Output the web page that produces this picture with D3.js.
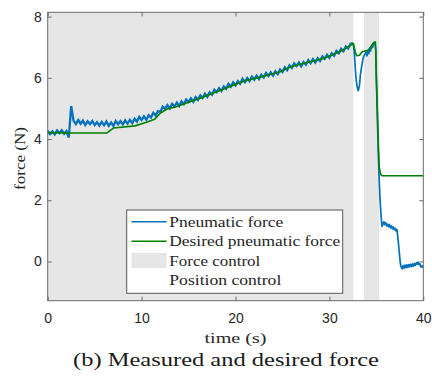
<!DOCTYPE html>
<html><head><meta charset="utf-8">
<script src="https://cdn.jsdelivr.net/npm/d3@7"></script>
<style>
html,body{margin:0;padding:0;background:#fff;}
svg{display:block;}
</style></head>
<body>
<svg id="chart" width="432" height="383"></svg>
<script>
// ---------- data ----------
const xTicks = [0, 10, 20, 30, 40];
const yTicks = [0, 2, 4, 6, 8];
const xDomain = [0, 40];
const yDomain = [-1.28, 8.14];

// shaded control regions (start, end) in seconds
const forceControlRegions = [[0, 32.55], [33.68, 35.28]];

// pneumatic force, sampled every 0.25 s from t = 0 to 32.5 s
const pneumaticStep = 0.25;
const pneumaticSampled = [
 4.27,4.16,4.25,4.15,4.28,4.19,4.29,4.17,4.26,4.05,
 5.08,4.60,4.49,4.62,4.50,4.60,4.46,4.58,4.49,4.59,
 4.46,4.55,4.44,4.56,4.45,4.57,4.43,4.54,4.43,4.59,
 4.48,4.59,4.48,4.61,4.50,4.63,4.52,4.66,4.57,4.72,
 4.62,4.74,4.63,4.78,4.70,4.86,4.77,4.91,4.89,5.06,
 4.99,5.11,5.00,5.15,5.06,5.19,5.08,5.23,5.14,5.29,
 5.21,5.33,5.22,5.37,5.28,5.43,5.34,5.48,5.38,5.53,
 5.45,5.61,5.53,5.66,5.57,5.72,5.64,5.80,5.71,5.85,
 5.75,5.89,5.81,5.97,5.86,5.99,5.89,6.04,5.94,6.07,
 5.96,6.10,6.01,6.16,6.06,6.18,6.07,6.21,6.12,6.27,
 6.19,6.34,6.25,6.41,6.32,6.47,6.38,6.50,6.38,6.52,
 6.43,6.58,6.48,6.61,6.50,6.64,6.55,6.70,6.62,6.75,
 6.65,6.80,6.72,6.88,6.80,6.95,6.87,7.02,6.96,7.11,
 7.13
];
// pneumatic force after 32.5 s: [time, force]
const pneumaticTail = [
 [32.5,7.13],[32.6,7.00],[32.7,6.60],[32.8,6.10],[32.95,5.70],[33.08,5.58],[33.2,5.75],
 [33.3,6.10],[33.45,6.40],[33.6,6.65],[33.75,6.76],[33.9,6.84],[34.0,6.72],
 [34.1,6.88],[34.2,6.79],[34.3,6.96],[34.4,6.88],[34.5,7.06],[34.6,6.99],
 [34.7,7.13],[34.85,7.16],[34.95,6.90],[35.0,6.00],[35.1,4.80],[35.2,3.60],
 [35.3,2.70],[35.4,2.00],[35.5,1.50],[35.6,1.15],[35.7,1.22],[35.8,1.30],
 [35.9,1.20],[36.0,1.27],[36.1,1.16],[36.2,1.22],[36.3,1.14],[36.4,1.21],
 [36.5,1.10],[36.6,1.16],[36.7,1.07],[36.8,1.13],[36.9,1.04],[37.0,1.09],
 [37.1,1.00],[37.2,1.04],[37.35,0.60],[37.5,0.10],[37.6,-0.15],[37.75,-0.24],
 [37.85,-0.13],[37.95,-0.22],[38.05,-0.12],[38.15,-0.20],[38.25,-0.11],
 [38.35,-0.19],[38.45,-0.10],[38.55,-0.18],[38.65,-0.09],[38.75,-0.16],
 [38.85,-0.08],[38.95,-0.15],[39.05,-0.07],[39.15,-0.12],[39.25,-0.04],
 [39.35,-0.09],[39.45,-0.02],[39.55,-0.10],[39.65,-0.08],[39.75,-0.18],
 [39.85,-0.14],[40.0,-0.20]
];
// desired pneumatic force: [time, force]
const desiredForce = [
 [0,4.21],[2.5,4.20],[6.3,4.20],[7.0,4.36],[9.3,4.43],[10.5,4.55],[11.4,4.65],
 [12.0,4.85],[12.7,4.98],[13.6,5.05],[16.6,5.37],[20.1,5.80],[21.2,5.92],
 [22.6,6.02],[24.7,6.19],[25.8,6.35],[26.9,6.44],[29.35,6.63],[31.1,6.85],
 [32.2,7.05],[32.55,7.12],[32.75,6.85],[32.9,6.72],[33.2,6.74],[33.5,6.85],
 [34.1,6.90],[34.4,7.00],[34.7,7.15],[34.9,7.17],[35.0,6.00],[35.15,4.50],
 [35.3,3.10],[35.45,2.85],[35.6,2.80],[40.0,2.80]
];
const legendLabels = ["Pneumatic force", "Desired pneumatic force", "Force control", "Position control"];
const xLabel = "time (s)";
const yLabel = "force (N)";
const caption = "(b) Measured and desired force";

// ---------- drawing ----------
const svg = d3.select("#chart");
const L = 47.7, R = 423.3, T = 12.3, B = 300.7;
const x = d3.scaleLinear().domain(xDomain).range([L, R]);
const y = d3.scaleLinear().domain(yDomain).range([B, T]);

const blue = "#0072BD", green = "#008000", shade = "#e6e6e6";
const axisColor = "#6a6a6a", labelColor = "#262626";
const serif = "'Liberation Serif', 'Times New Roman', serif";
const sans = "'Liberation Sans', Arial, Helvetica, sans-serif";

// shaded regions
svg.append("g").selectAll("rect").data(forceControlRegions).join("rect")
  .attr("x", d => x(d[0])).attr("width", d => x(d[1]) - x(d[0]))
  .attr("y", y(yDomain[1])).attr("height", y(yDomain[0]) - y(yDomain[1]))
  .attr("fill", shade);

const pneumaticMain = pneumaticSampled.map((v, i) => [i * pneumaticStep, v]);
const line = d3.line().x(d => x(d[0])).y(d => y(d[1]));

svg.append("path").datum(pneumaticMain).attr("d", line)
  .attr("fill", "none").attr("stroke", blue).attr("stroke-width", 2.3).attr("stroke-linejoin", "miter");
svg.append("path").datum(pneumaticTail).attr("d", line)
  .attr("fill", "none").attr("stroke", blue).attr("stroke-width", 1.7).attr("stroke-linejoin", "round");
svg.append("path").datum(desiredForce).attr("d", line)
  .attr("fill", "none").attr("stroke", green).attr("stroke-width", 1.6).attr("stroke-linejoin", "round");

// axes
function styleAxis(g, showText) {
  g.select(".domain").remove();
  g.selectAll(".tick line").attr("stroke", axisColor);
  g.selectAll(".tick text").attr("fill", labelColor).style("font-family", sans).style("font-size", "14px");
  if (!showText) g.selectAll(".tick text").remove();
}
svg.append("g").attr("transform", `translate(0,${B})`)
  .call(d3.axisBottom(x).tickValues(xTicks).tickSizeInner(-4).tickSizeOuter(0).tickPadding(12))
  .call(g => styleAxis(g, true));
svg.append("g").attr("transform", `translate(0,${T})`)
  .call(d3.axisTop(x).tickValues(xTicks).tickSizeInner(-4).tickSizeOuter(0))
  .call(g => styleAxis(g, false));
svg.append("g").attr("transform", `translate(${L},0)`)
  .call(d3.axisLeft(y).tickValues(yTicks).tickSizeInner(-4).tickSizeOuter(0).tickPadding(6))
  .call(g => styleAxis(g, true));
svg.append("g").attr("transform", `translate(${R},0)`)
  .call(d3.axisRight(y).tickValues(yTicks).tickSizeInner(-4).tickSizeOuter(0))
  .call(g => styleAxis(g, false));

// box
svg.append("rect").attr("x", L).attr("y", T).attr("width", R - L).attr("height", B - T)
  .attr("fill", "none").attr("stroke", axisColor).attr("stroke-width", 1);

// axis labels
svg.append("text").attr("x", x(20)).attr("y", 343).attr("text-anchor", "middle")
  .style("font-family", serif).style("font-size", "15px").attr("fill", labelColor)
  .attr("textLength", 62).attr("lengthAdjust", "spacingAndGlyphs").text(xLabel);
svg.append("text").attr("transform", `translate(25,158.5) rotate(-90)`).attr("text-anchor", "middle")
  .style("font-family", serif).style("font-size", "15px").attr("fill", labelColor)
  .attr("textLength", 63).attr("lengthAdjust", "spacingAndGlyphs").text(yLabel);

// caption
svg.append("text").attr("x", 226).attr("y", 366).attr("text-anchor", "middle")
  .style("font-family", serif).style("font-size", "18px").attr("fill", "#1a1a1a")
  .attr("textLength", 306).attr("lengthAdjust", "spacingAndGlyphs").text(caption);

// legend
const lg = svg.append("g");
lg.append("rect").attr("x", 126.7).attr("y", 210).attr("width", 216).attr("height", 83.3)
  .attr("fill", "#fff").attr("stroke", "#555").attr("stroke-width", 1);
const rowY = [221.7, 241.3, 260.5, 280];
const textW = [114, 171, 91, 112];
legendLabels.forEach((lab, i) => {
  const yy = rowY[i];
  if (i === 0 || i === 1) {
    lg.append("line").attr("x1", 131.5).attr("x2", 166.5).attr("y1", yy).attr("y2", yy)
      .attr("stroke", i === 0 ? blue : green).attr("stroke-width", 1.5);
  } else if (i === 2) {
    lg.append("rect").attr("x", 131.5).attr("y", yy - 7.5).attr("width", 35).attr("height", 15)
      .attr("fill", shade);
  }
  lg.append("text").attr("x", 169.3).attr("y", yy + 5).style("font-family", serif)
    .style("font-size", "15px").attr("fill", labelColor)
    .attr("textLength", textW[i]).attr("lengthAdjust", "spacingAndGlyphs").text(lab);
});
</script>
</body></html>
